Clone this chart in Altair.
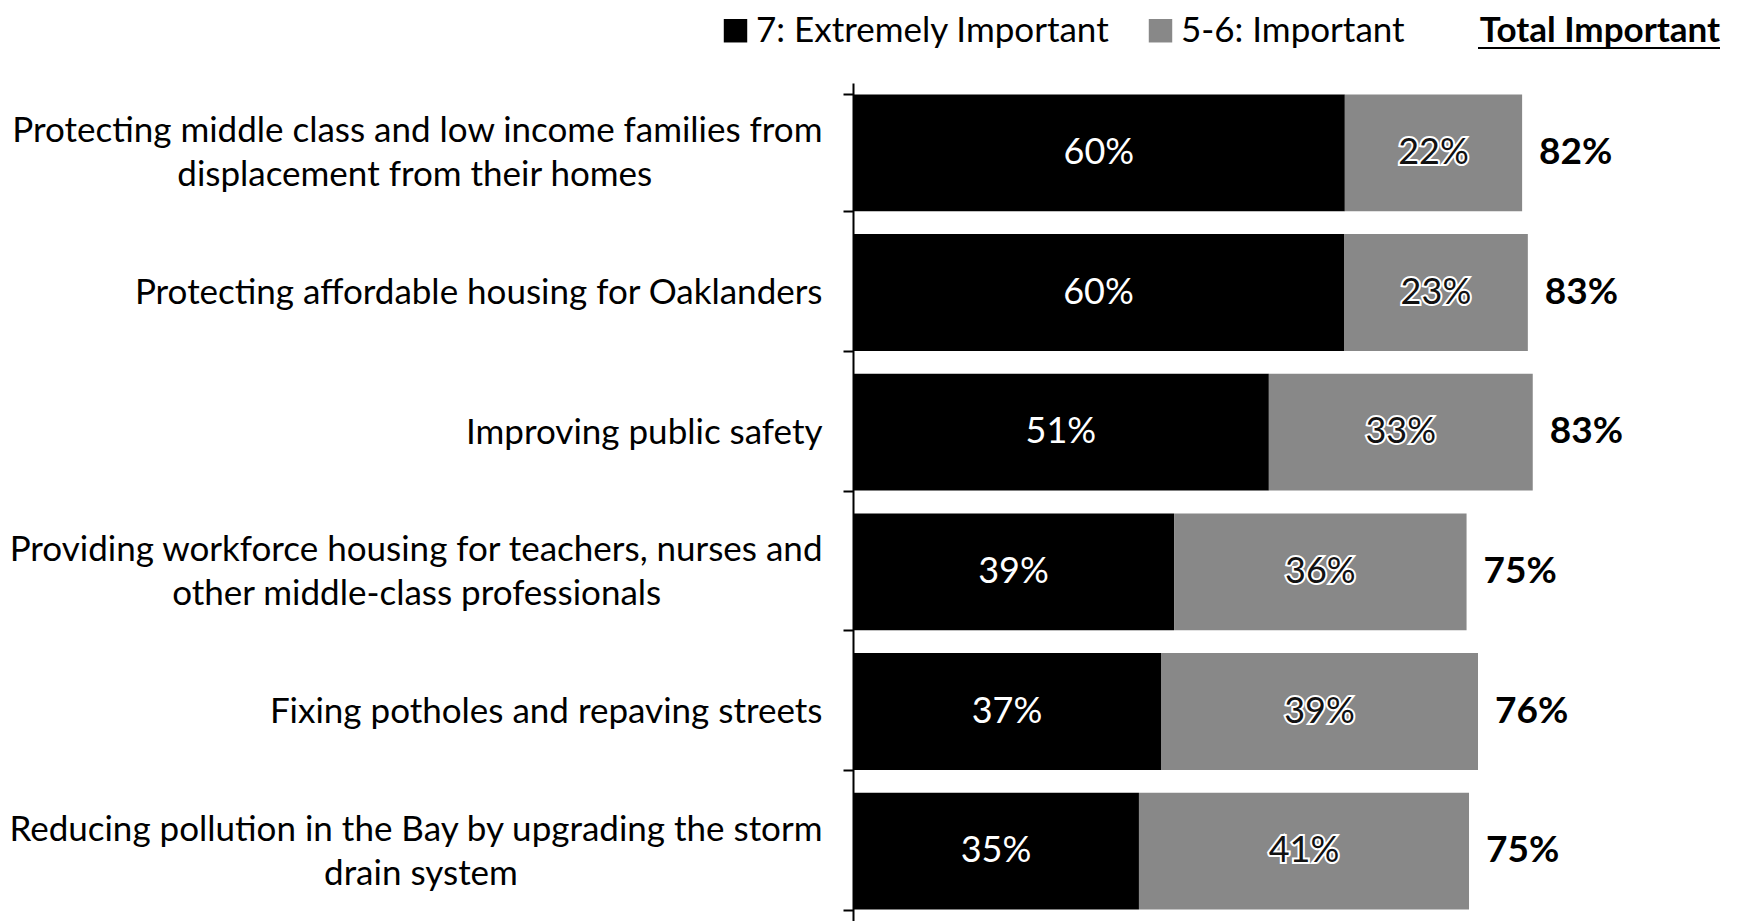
import altair as alt
import pandas as pd

NB = "\u00a0"
ZW = "\u200b"
categories = [
    "Protecting middle class and low income families from|displacement from their homes" + NB * 19 + ZW,
    "Protecting affordable housing for Oaklanders",
    "Improving public safety",
    "Providing workforce housing for teachers, nurses and|other middle-class professionals" + NB * 18 + ZW,
    "Fixing potholes and repaving streets",
    "Reducing pollution in the Bay by upgrading the storm|drain system" + NB * 34 + ZW,
]
extreme_share = [60.2, 60.1, 50.9, 39.3, 37.7, 35.0]
total_share = [81.9, 82.6, 83.2, 75.1, 76.5, 75.4]
extreme_label = [60, 60, 51, 39, 37, 35]
important_label = [22, 23, 33, 36, 39, 41]
total_label = [82, 83, 83, 75, 76, 75]

series = ["7: Extremely Important", "5-6: Important"]
FONT = "Lato"

rows = []
for c, e, t, el, il in zip(categories, extreme_share, total_share, extreme_label, important_label):
    rows.append({"category": c, "series": series[0], "start": 0, "end": e, "label": f"{el}%"})
    rows.append({"category": c, "series": series[1], "start": e, "end": t, "label": f"{il}%"})
bars_df = pd.DataFrame(rows)
tot_df = pd.DataFrame({"category": categories, "total": total_share,
                       "label": [f"{v}%" for v in total_label]})

y_enc = alt.Y(
    "category:N", sort=categories,
    scale=alt.Scale(paddingInner=0.164, paddingOuter=0.082),
    axis=alt.Axis(
        title=None, labelExpr="split(datum.label, '|')", labelFontSize=35,
        labelFont=FONT, labelColor="black", labelAlign="right", labelLimit=1000,
        labelPadding=21, tickBand="extent", tickSize=10, tickColor="black",
        tickWidth=2, domainColor="black", domainWidth=2, labelLineHeight=44,
        labelOffset={"condition": {"test": "indexof(datum.label, '|') >= 0", "value": -22}, "value": 0},
        grid=False,
    ),
)
x_scale = alt.Scale(domain=[0, 100], nice=False, zero=True)

base = alt.Chart(bars_df)
bars = base.mark_bar().encode(
    y=y_enc,
    x=alt.X("start:Q", scale=x_scale, axis=None),
    x2="end:Q",
    color=alt.Color(
        "series:N",
        scale=alt.Scale(domain=series, range=["#000000", "#888888"]),
        legend=alt.Legend(
            title=None, orient="none", legendX=-135, legendY=-70,
            direction="horizontal", symbolType="square", symbolSize=550,
            symbolStrokeWidth=0, labelFontSize=35, labelFont=FONT,
            labelColor="black", labelOffset=3, columnPadding=33, labelLimit=600,
        ),
    ),
)

mid = base.transform_calculate(mid="(datum.start + datum.end) / 2")
white_text = mid.transform_filter(alt.datum.series == series[0]).mark_text(
    color="white", fontSize=36, font=FONT, baseline="middle", align="center"
).encode(y=alt.Y("category:N", sort=categories), x=alt.X("mid:Q", scale=x_scale), text="label:N")

gray_halo = mid.transform_filter(alt.datum.series == series[1]).mark_text(
    color="black", stroke="white", strokeWidth=4, fontSize=36, font=FONT,
    baseline="middle", align="center"
).encode(y=alt.Y("category:N", sort=categories), x=alt.X("mid:Q", scale=x_scale), text="label:N")
gray_text = mid.transform_filter(alt.datum.series == series[1]).mark_text(
    color="#111111", fontSize=36, font=FONT, baseline="middle", align="center"
).encode(y=alt.Y("category:N", sort=categories), x=alt.X("mid:Q", scale=x_scale), text="label:N")

totals = alt.Chart(tot_df).mark_text(
    color="black", fontSize=37, font=FONT, fontWeight="bold", baseline="middle",
    align="left", dx=17
).encode(y=alt.Y("category:N", sort=categories), x=alt.X("total:Q", scale=x_scale), text="label:N")

head_df = pd.DataFrame({"t": ["Total Important"]})
head = alt.Chart(head_df).mark_text(
    color="black", fontSize=35, font=FONT, fontWeight="bold", align="right", baseline="middle"
).encode(text="t:N", x=alt.value(867), y=alt.value(-52))
underline = alt.Chart(head_df).mark_rule(color="black", strokeWidth=2).encode(
    x=alt.value(625), x2=alt.value(867), y=alt.value(-35)
)

chart = alt.layer(bars, white_text, gray_halo, gray_text, totals, head, underline).properties(
    width=817, height=838,
    autosize=alt.AutoSizeParams(type="none"),
    padding={"left": 845, "top": 75, "right": 64, "bottom": 0},
).configure_view(stroke=None)

chart.save("out.html", embed_options={"renderer": "svg", "actions": False})
